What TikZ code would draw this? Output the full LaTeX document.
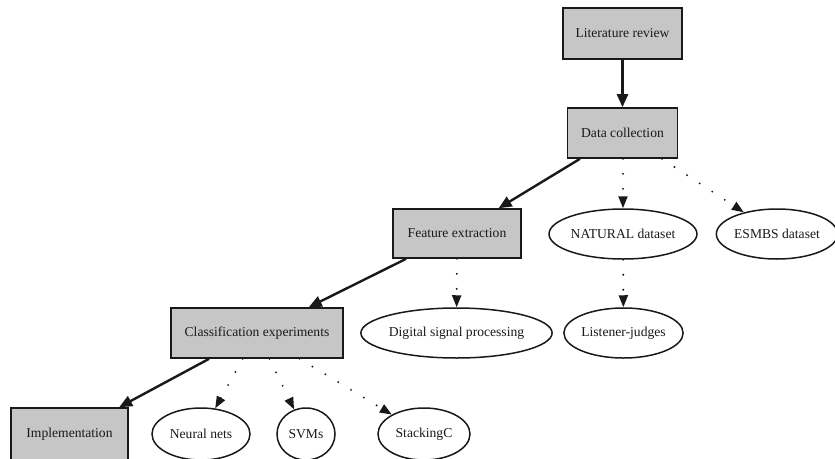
\documentclass[tikz,border=0pt]{standalone}
\usepackage{fontspec}
\setmainfont{Liberation Serif}
\usetikzlibrary{shapes.geometric,arrows.meta}
\definecolor{boxgray}{RGB}{198,198,198}
\definecolor{inkc}{RGB}{25,25,25}
\begin{document}
\begin{tikzpicture}[x=1pt,y=-1pt,
  every node/.style={font=\fontsize{13.6}{16}\selectfont, text=inkc, inner sep=0pt},
  stagebox/.style={draw=inkc, fill=boxgray, line width=1.6pt, rectangle},
  topicell/.style={draw=inkc, fill=white, line width=1.5pt, ellipse},
  mainarrow/.style={draw=inkc, line width=2.4pt, -{Triangle[length=13pt,width=11pt]}},
  subarrow/.style={draw=inkc, line width=2.1pt, line cap=round, dash pattern=on 0pt off 15pt, -{Triangle[length=12pt,width=9pt]}}
]
\useasboundingbox (0,0) rectangle (835,458);
\clip (0,0) rectangle (835,458);
% stages
\node[stagebox, minimum width=119pt, minimum height=51pt] (lit) at (622.5,33.5) {Literature review};
\node[stagebox, minimum width=110pt, minimum height=50pt] (data) at (622.5,133) {Data collection};
\node[stagebox, minimum width=128pt, minimum height=49pt] (feat) at (457,233.5) {Feature extraction};
\node[stagebox, minimum width=172pt, minimum height=50pt] (cls) at (257,333) {Classification experiments};
\node[stagebox, minimum width=117pt, minimum height=52pt] (impl) at (69.5,434) {Implementation};
% topics
\node[topicell, minimum width=140pt, minimum height=50pt] (nat) at (623,234) {NATURAL dataset};
\node[topicell, minimum width=116pt, minimum height=50pt] (esm) at (777,234) {ESMBS dataset};
\node[topicell, minimum width=177pt, minimum height=50pt] (dsp) at (456.5,333) {Digital signal processing};
\node[topicell, minimum width=103pt, minimum height=50pt] (lis) at (623.5,333) {Listener-judges};
\node[topicell, minimum width=98pt, minimum height=52pt] (nn) at (201,434) {Neural nets};
\node[topicell, minimum width=58pt, minimum height=52pt] (svm) at (306,434) {SVMs};
\node[topicell, minimum width=92pt, minimum height=52pt] (stk) at (424,434) {StackingC};
% main flow
\draw[mainarrow] (lit) -- (data);
\draw[mainarrow] (data) -- (feat);
\draw[mainarrow] (feat) -- (cls);
\draw[mainarrow] (cls) -- (impl);
% sub topics
\draw[subarrow] (data.south -| nat.north) -- (nat);
\draw[subarrow] (data) -- (esm);
\draw[subarrow] (feat) -- (dsp);
\draw[subarrow] (nat) -- (lis);
\draw[subarrow] (cls) -- (nn);
\draw[subarrow] (cls) -- (svm);
\draw[subarrow] (cls) -- (stk);
\end{tikzpicture}
\end{document}
